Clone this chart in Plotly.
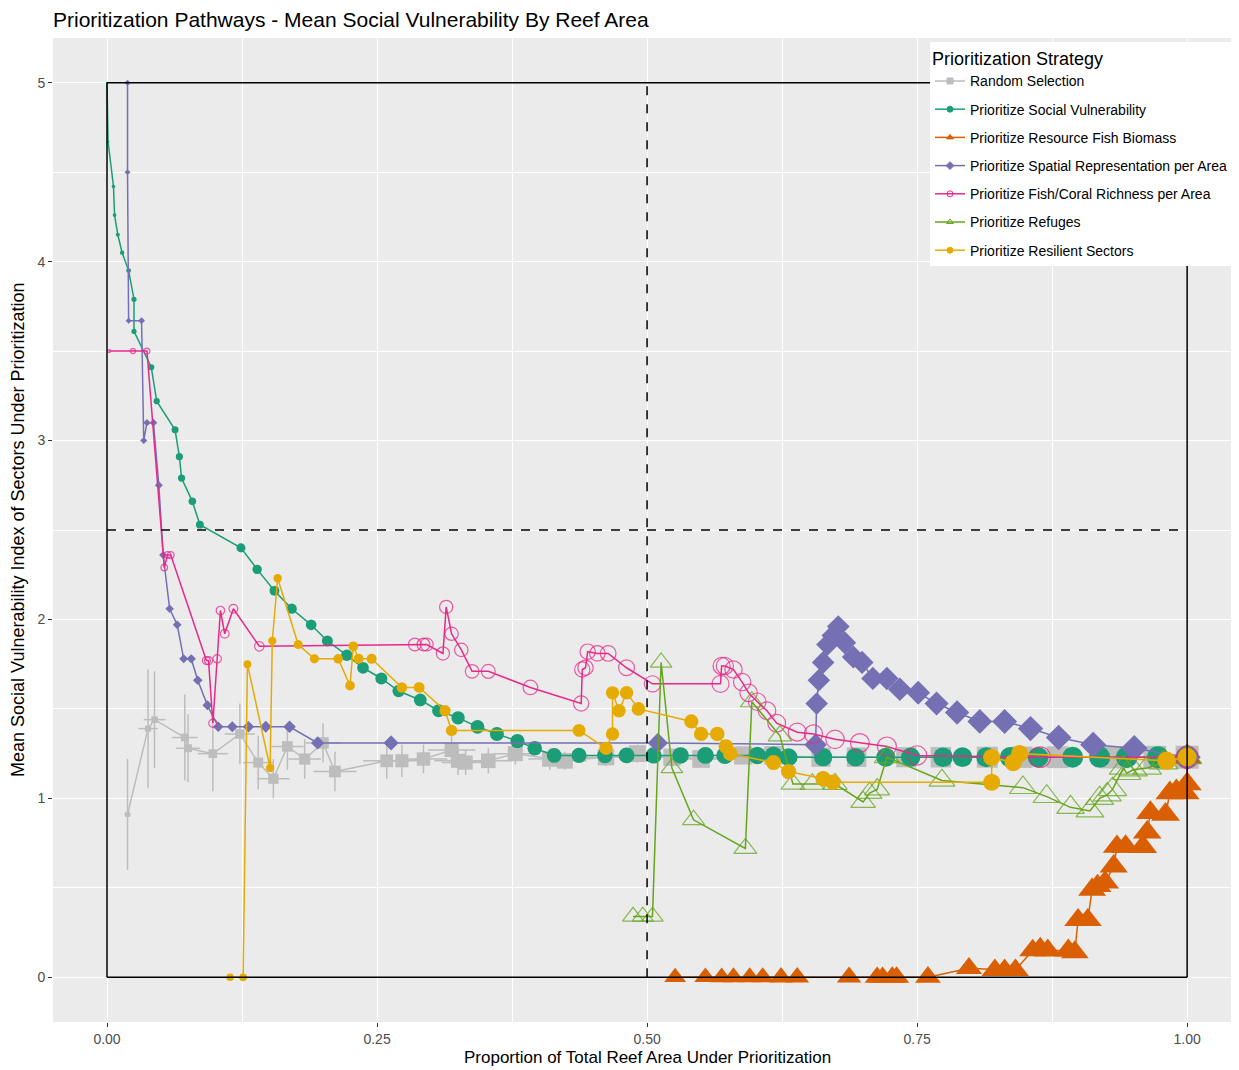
import numpy as np
import plotly.graph_objects as go

# ---------------- data ----------------
strategies = ["Random Selection", "Prioritize Social Vulnerability", "Prioritize Resource Fish Biomass",
              "Prioritize Spatial Representation per Area", "Prioritize Fish/Coral Richness per Area",
              "Prioritize Refuges", "Prioritize Resilient Sectors"]

random_x = [0.019, 0.038, 0.044, 0.072, 0.075, 0.098, 0.123, 0.140, 0.154, 0.167, 0.183, 0.200, 0.211,
            0.259, 0.273, 0.293, 0.319, 0.325, 0.332, 0.353, 0.378, 0.410, 0.424, 0.462, 0.491, 0.523,
            0.550, 0.589, 0.617, 0.661, 0.694, 0.740, 0.772, 0.815, 0.847, 0.880, 0.930, 0.970, 1.0]
random_y = [0.91, 1.39, 1.44, 1.34, 1.28, 1.25, 1.36, 1.20, 1.11, 1.29, 1.22, 1.31, 1.15,
            1.21, 1.21, 1.22, 1.27, 1.21, 1.20, 1.21, 1.25, 1.22, 1.21, 1.23, 1.25, 1.23,
            1.22, 1.24, 1.24, 1.23, 1.23, 1.23, 1.23, 1.23, 1.23, 1.23, 1.23, 1.23, 1.23]
random_yerr = [0.31, 0.33, 0.27, 0.24, 0.19, 0.21, 0.17, 0.15, 0.11, 0.13, 0.11, 0.11, 0.11,
               0.10, 0.09, 0.08, 0.08, 0.08, 0.07, 0.07, 0.06, 0.06, 0.05, 0.05, 0.05, 0.04,
               0.04, 0.04, 0.03, 0.03, 0.03, 0.03, 0.02, 0.02, 0.02, 0.02, 0.01, 0.01, 0.0]
random_xerr = [0.003, 0.009, 0.010, 0.012, 0.011, 0.014, 0.014, 0.014, 0.015, 0.015, 0.015, 0.016, 0.020,
               0.022, 0.022, 0.022, 0.022, 0.022, 0.022, 0.022, 0.020, 0.020, 0.020, 0.020, 0.018, 0.018,
               0.018, 0.016, 0.016, 0.015, 0.015, 0.014, 0.013, 0.012, 0.011, 0.010, 0.008, 0.005, 0.0]

social_x = [0.0, 0.001, 0.006, 0.007, 0.010, 0.014, 0.020, 0.025, 0.025, 0.041, 0.046, 0.063, 0.067,
            0.069, 0.079, 0.086, 0.124, 0.139, 0.155, 0.171, 0.189, 0.204, 0.222, 0.237, 0.254, 0.270,
            0.290, 0.307, 0.325, 0.343, 0.361, 0.380, 0.396, 0.414, 0.437, 0.461, 0.481, 0.506, 0.531,
            0.554, 0.572, 0.602, 0.617, 0.631, 0.663, 0.693, 0.721, 0.744, 0.774, 0.792, 0.814, 0.836,
            0.862, 0.894, 0.919, 0.944, 0.973, 1.0]
social_y = [5.0, 4.67, 4.42, 4.26, 4.15, 4.05, 3.95, 3.79, 3.61, 3.41, 3.22, 3.06, 2.91,
            2.79, 2.66, 2.53, 2.40, 2.28, 2.16, 2.06, 1.97, 1.88, 1.80, 1.73, 1.67, 1.60,
            1.55, 1.49, 1.45, 1.40, 1.36, 1.32, 1.28, 1.24, 1.24, 1.24, 1.24, 1.24, 1.24,
            1.24, 1.24, 1.24, 1.24, 1.23, 1.23, 1.23, 1.23, 1.23, 1.23, 1.23, 1.23, 1.23,
            1.23, 1.23, 1.23, 1.23, 1.23, 1.23]

biomass_x = [0.526, 0.554, 0.569, 0.580, 0.595, 0.607, 0.624, 0.639, 0.687, 0.713, 0.718, 0.727, 0.731,
             0.760, 0.798, 0.822, 0.831, 0.841, 0.857, 0.864, 0.871, 0.890, 0.896, 0.899, 0.908, 0.912,
             0.917, 0.924, 0.932, 0.935, 0.943, 0.959, 0.963, 0.966, 0.980, 0.984, 0.990, 0.998, 1.0, 1.0]
biomass_y = [0.0, 0.0, 0.0, 0.0, 0.0, 0.0, 0.0, 0.0, 0.0, 0.0, 0.0, 0.0, 0.0,
             0.0, 0.05, 0.04, 0.04, 0.04, 0.15, 0.16, 0.15, 0.15, 0.14, 0.32, 0.32, 0.49,
             0.51, 0.53, 0.62, 0.73, 0.73, 0.73, 0.81, 0.92, 0.91, 1.03, 1.04, 1.03, 1.08, 1.23]

spatial_x = [0.019, 0.019, 0.020, 0.032, 0.034, 0.037, 0.043, 0.048, 0.052, 0.058, 0.065, 0.071, 0.078,
             0.084, 0.093, 0.103, 0.116, 0.131, 0.147, 0.169, 0.195, 0.263, 0.510, 0.656, 0.657, 0.659,
             0.663, 0.667, 0.672, 0.677, 0.683, 0.691, 0.699, 0.709, 0.722, 0.734, 0.751, 0.768, 0.787,
             0.808, 0.831, 0.855, 0.881, 0.913, 0.951, 1.0]
spatial_y = [5.0, 4.50, 3.67, 3.67, 3.00, 3.10, 3.10, 2.75, 2.36, 2.06, 1.97, 1.78, 1.78,
             1.66, 1.52, 1.40, 1.40, 1.40, 1.40, 1.40, 1.31, 1.31, 1.31, 1.30, 1.53, 1.66,
             1.76, 1.86, 1.91, 1.96, 1.87, 1.79, 1.76, 1.67, 1.67, 1.61, 1.59, 1.53, 1.48,
             1.43, 1.43, 1.39, 1.34, 1.30, 1.28, 1.23]

richness_x = [0.002, 0.024, 0.037, 0.053, 0.056, 0.059, 0.092, 0.094, 0.098, 0.102, 0.105, 0.109, 0.117,
              0.141, 0.285, 0.293, 0.296, 0.311, 0.314, 0.319, 0.328, 0.338, 0.353, 0.392, 0.439, 0.440,
              0.443, 0.445, 0.454, 0.464, 0.481, 0.505, 0.568, 0.569, 0.572, 0.580, 0.588, 0.594, 0.602,
              0.611, 0.620, 0.639, 0.654, 0.674, 0.697, 0.722, 0.750, 0.864, 1.0]
richness_y = [3.50, 3.50, 3.50, 2.29, 2.36, 2.36, 1.77, 1.77, 1.42, 1.78, 2.05, 1.92, 2.06,
              1.85, 1.86, 1.86, 1.86, 1.81, 2.07, 1.92, 1.83, 1.71, 1.71, 1.62, 1.53, 1.72,
              1.73, 1.82, 1.81, 1.81, 1.73, 1.64, 1.64, 1.74, 1.74, 1.72, 1.65, 1.59, 1.54,
              1.49, 1.42, 1.37, 1.36, 1.33, 1.31, 1.29, 1.24, 1.23, 1.23]

refuges_x = [0.487, 0.496, 0.505, 0.513, 0.523, 0.543, 0.591, 0.597, 0.623, 0.635, 0.653, 0.674, 0.700,
             0.706, 0.713, 0.722, 0.773, 0.848, 0.870, 0.892, 0.910, 0.919, 0.926, 0.931, 0.941, 0.944,
             0.950, 0.963, 0.978, 1.0]
refuges_y = [0.34, 0.34, 0.34, 1.76, 1.17, 0.88, 0.72, 1.54, 1.35, 1.08, 1.08, 1.08, 0.98,
             1.03, 1.05, 1.23, 1.10, 1.06, 1.01, 0.95, 0.93, 1.00, 1.02, 1.05, 1.17, 1.14,
             1.16, 1.17, 1.20, 1.23]

resilient_x = [0.114, 0.126, 0.130, 0.151, 0.153, 0.158, 0.177, 0.192, 0.214, 0.225, 0.228, 0.233, 0.245,
               0.273, 0.289, 0.313, 0.319, 0.437, 0.462, 0.468, 0.468, 0.474, 0.481, 0.492, 0.541, 0.550,
               0.565, 0.573, 0.577, 0.617, 0.631, 0.663, 0.672, 0.819, 0.819, 0.839, 0.845, 0.981, 1.0]
resilient_y = [0.0, 0.0, 1.75, 1.17, 1.88, 2.23, 1.86, 1.78, 1.78, 1.63, 1.85, 1.78, 1.78,
               1.62, 1.62, 1.49, 1.38, 1.38, 1.28, 1.36, 1.59, 1.49, 1.59, 1.50, 1.43, 1.36,
               1.36, 1.29, 1.25, 1.20, 1.15, 1.11, 1.09, 1.09, 1.23, 1.20, 1.25, 1.21, 1.23]

x_ticks = [0.0, 0.25, 0.5, 0.75, 1.0]
x_tick_labels = ["0.00", "0.25", "0.50", "0.75", "1.00"]
y_ticks = [0, 1, 2, 3, 4, 5]
y_tick_labels = ["0", "1", "2", "3", "4", "5"]

box_x = [0.0, 1.0]          # reference box of the full pathway space
box_y = [0.0, 5.0]
half_area = 0.5             # dashed reference: half of reef area
mid_vuln = 2.5              # dashed reference: mid vulnerability

# ---------------- styles ----------------
colors = {
    "Random Selection": "#BDBDBD",
    "Prioritize Social Vulnerability": "#1B9E77",
    "Prioritize Resource Fish Biomass": "#D95F02",
    "Prioritize Spatial Representation per Area": "#7570B3",
    "Prioritize Fish/Coral Richness per Area": "#E7298A",
    "Prioritize Refuges": "#66A61E",
    "Prioritize Resilient Sectors": "#E6AB02",
}
symbols = {
    "Random Selection": "square",
    "Prioritize Social Vulnerability": "circle",
    "Prioritize Resource Fish Biomass": "triangle-up",
    "Prioritize Spatial Representation per Area": "diamond",
    "Prioritize Fish/Coral Richness per Area": "circle-open",
    "Prioritize Refuges": "triangle-up-open",
    "Prioritize Resilient Sectors": "circle",
}
scale = {
    "Random Selection": 1.05,
    "Prioritize Social Vulnerability": 1.0,
    "Prioritize Resource Fish Biomass": 1.15,
    "Prioritize Spatial Representation per Area": 0.95,
    "Prioritize Fish/Coral Richness per Area": 1.0,
    "Prioritize Refuges": 1.15,
    "Prioritize Resilient Sectors": 0.85,
}

def msize(xs, name):
    xs = np.asarray(xs, dtype=float)
    return (2 + 20 * np.sqrt(np.clip(xs, 0, None))) * scale[name]

series = {
    "Random Selection": (random_x, random_y),
    "Prioritize Social Vulnerability": (social_x, social_y),
    "Prioritize Resource Fish Biomass": (biomass_x, biomass_y),
    "Prioritize Spatial Representation per Area": (spatial_x, spatial_y),
    "Prioritize Fish/Coral Richness per Area": (richness_x, richness_y),
    "Prioritize Refuges": (refuges_x, refuges_y),
    "Prioritize Resilient Sectors": (resilient_x, resilient_y),
}

fig = go.Figure()

for name in strategies:
    xs, ys = series[name]
    kw = {}
    if name == "Random Selection":
        kw["error_y"] = dict(type="data", array=random_yerr, color=colors[name], thickness=1.5, width=0)
        kw["error_x"] = dict(type="data", array=random_xerr, color=colors[name], thickness=1.5, width=0)
    open_sym = symbols[name].endswith("open")
    fig.add_trace(go.Scatter(
        x=xs, y=ys, mode="lines+markers", name=name, legendgroup=name, showlegend=False,
        line=dict(color=colors[name], width=1.5),
        marker=dict(symbol=symbols[name], size=msize(xs, name), color=colors[name],
                    line=dict(width=1.2 if open_sym else 0, color=colors[name]),
                    opacity=0.75 if open_sym else 1.0),
        **kw))

# legend entries (no marks drawn)
for name in strategies:
    fig.add_trace(go.Scatter(
        x=[None], y=[None], mode="lines+markers", name=name, legendgroup=name, showlegend=True,
        line=dict(color=colors[name], width=1.5),
        marker=dict(symbol=symbols[name], size=6, color=colors[name],
                    line=dict(width=1, color=colors[name]))))

# reference lines
shapes = []
blk = dict(color="black", width=1.5)
shapes.append(dict(type="line", xref="x", yref="y", x0=box_x[0], x1=box_x[0], y0=box_y[0], y1=box_y[1], line=blk, layer="above"))
shapes.append(dict(type="line", xref="x", yref="y", x0=box_x[1], x1=box_x[1], y0=box_y[0], y1=box_y[1], line=blk, layer="above"))
shapes.append(dict(type="line", xref="x", yref="y", x0=box_x[0], x1=box_x[1], y0=box_y[0], y1=box_y[0], line=blk, layer="above"))
shapes.append(dict(type="line", xref="x", yref="y", x0=box_x[0], x1=box_x[1], y0=box_y[1], y1=box_y[1], line=blk, layer="above"))
dsh = dict(color="black", width=1.5, dash="dash")
shapes.append(dict(type="line", xref="x", yref="y", x0=half_area, x1=half_area, y0=box_y[0], y1=box_y[1], line=dsh, layer="above"))
shapes.append(dict(type="line", xref="x", yref="y", x0=box_x[0], x1=box_x[1], y0=mid_vuln, y1=mid_vuln, line=dsh, layer="above"))

font_family = "Liberation Sans, Arial, sans-serif"

# the page body adds an 8px offset, so the figure is drawn 8px smaller/earlier
OFF = 8
W, H = 1239 - OFF, 1070 - OFF
ML, MT = 53 - OFF, 38 - OFF
MR = 0
MB = H - (1022 - OFF)
PW, PH = W - ML - MR, H - MT - MB

annotations = [
    dict(text="Proportion of Total Reef Area Under Prioritization", xref="paper", yref="paper",
         x=(647 - OFF - ML) / PW, y=-(1057 - 1022) / PH, xanchor="center", yanchor="middle",
         showarrow=False, font=dict(size=17, color="black")),
    dict(text="Mean Social Vulnerability Index of Sectors Under Prioritization", xref="paper", yref="paper",
         x=(18 - 53) / PW, y=(1022 - 530) / PH, xanchor="center", yanchor="middle", textangle=-90,
         showarrow=False, font=dict(size=18, color="black")),
]

fig.update_layout(
    width=W, height=H,
    margin=dict(l=ML, r=MR, t=MT, b=MB),
    paper_bgcolor="white", plot_bgcolor="#EBEBEB",
    font=dict(family=font_family, color="black"),
    title=dict(text="Prioritization Pathways - Mean Social Vulnerability By Reef Area",
               x=(53 - OFF) / W, xanchor="left", xref="container", y=1 - (20 - OFF) / H, yanchor="middle",
               yref="container", font=dict(size=21, color="black")),
    shapes=shapes,
    annotations=annotations,
    showlegend=True,
    legend=dict(x=(930 - 53) / PW, xanchor="left", y=1.0 - 4 / PH, yanchor="top",
                bgcolor="white", borderwidth=0,
                title=dict(text="Prioritization Strategy", font=dict(size=18, color="black")),
                font=dict(size=14, color="black"), tracegroupgap=7, itemwidth=30),
)

fig.update_xaxes(
    range=[-0.05, 1.048], tickvals=x_ticks, ticktext=x_tick_labels, automargin=False,
    showgrid=True, gridcolor="white", gridwidth=1.2, zeroline=False,
    ticks="outside", ticklen=4, tickcolor="#333333", tickwidth=1,
    tickfont=dict(size=14, color="#4D4D4D"),
    minor=dict(tickvals=[-0.125, 0.125, 0.375, 0.625, 0.875], showgrid=True, gridcolor="white", gridwidth=0.6, ticks=""),
    showline=False,
)
fig.update_yaxes(
    range=[-0.25, 5.25], tickvals=y_ticks, ticktext=y_tick_labels, automargin=False,
    showgrid=True, gridcolor="white", gridwidth=1.2, zeroline=False,
    ticks="outside", ticklen=4, tickcolor="#333333", tickwidth=1,
    tickfont=dict(size=14, color="#4D4D4D"),
    minor=dict(tickvals=[0.5, 1.5, 2.5, 3.5, 4.5], showgrid=True, gridcolor="white", gridwidth=0.6, ticks=""),
    showline=False,
)

fig.write_html("out.html")
